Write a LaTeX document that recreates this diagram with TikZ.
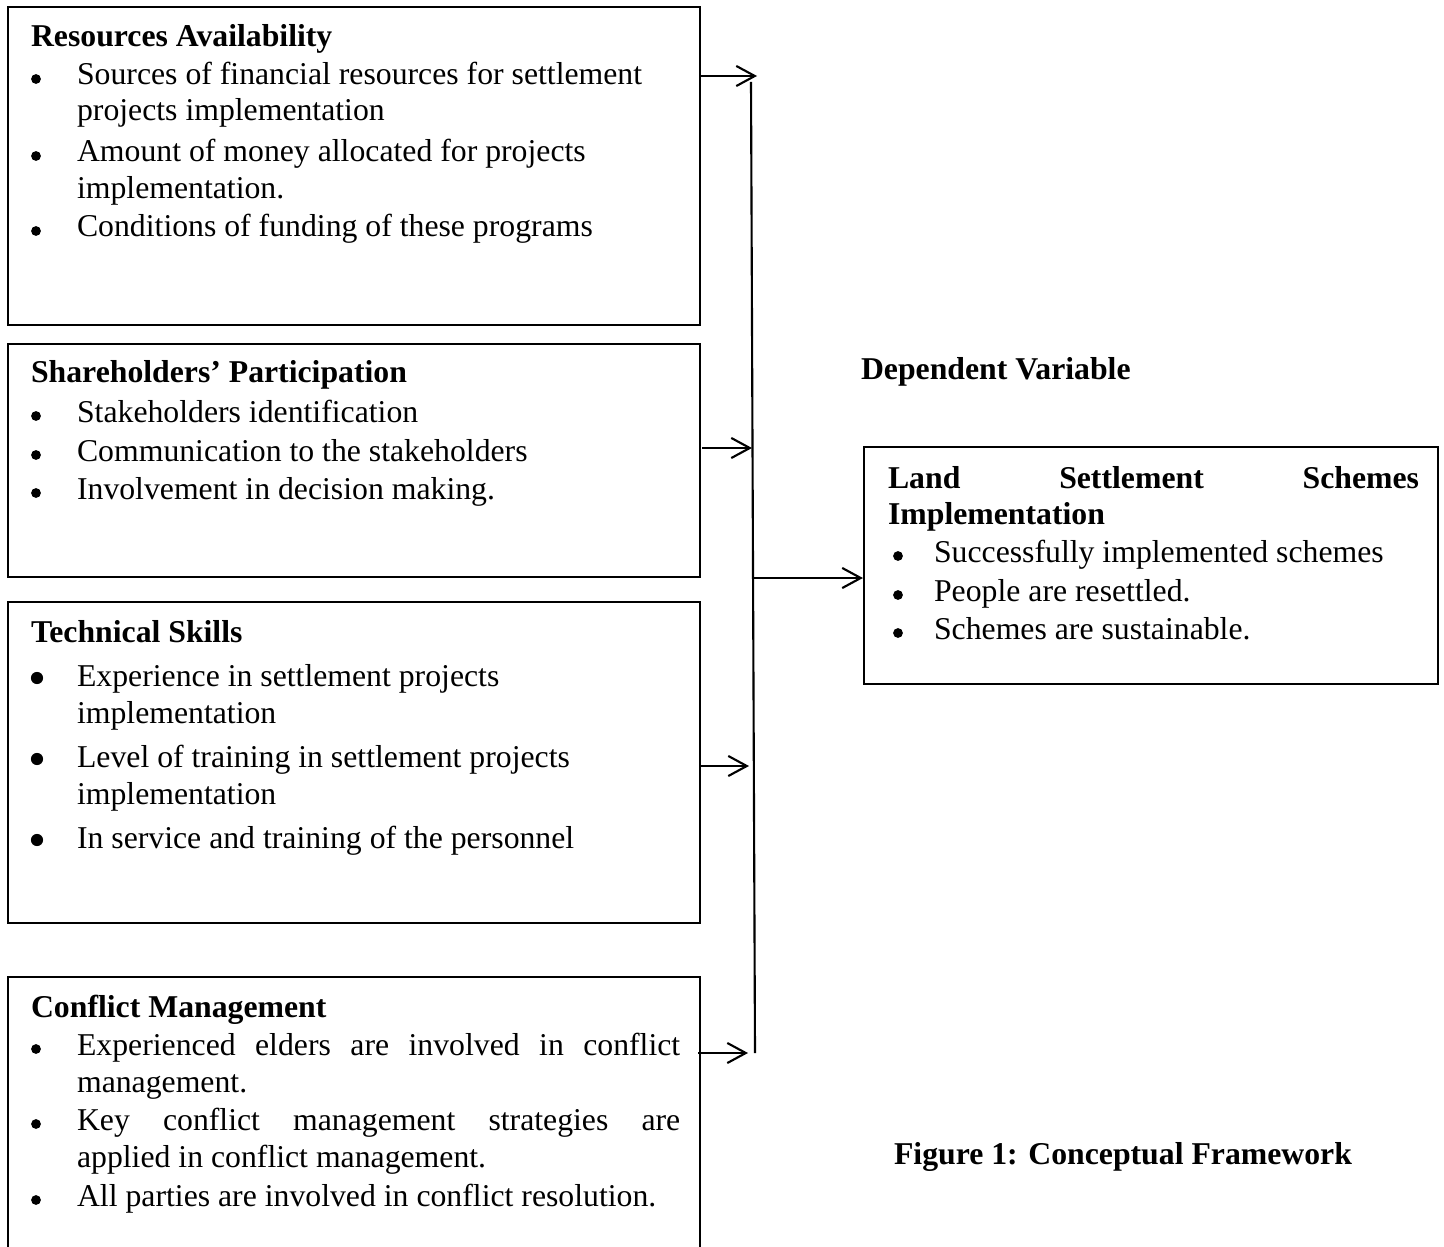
\documentclass[tikz,border=0pt]{standalone}
\usepackage{fontspec}
\setmainfont{Liberation Serif}
\usetikzlibrary{arrows.meta,fit}
\begin{document}
\begin{tikzpicture}[x=0.378pt,y=-0.378pt,line width=0.8pt,
  txt/.style={anchor=base west,inner sep=0pt,font=\fontsize{12}{13.8}\selectfont},
  ttl/.style={anchor=base west,inner sep=0pt,font=\fontsize{12}{13.8}\selectfont\bfseries},
  bulS/.style={circle,fill=black,draw=none,inner sep=0pt,minimum size=3.7pt},
  bulL/.style={circle,fill=black,draw=none,inner sep=0pt,minimum size=4.6pt},
  box/.style={draw=black,line width=0.8pt,inner sep=0pt},
  arr/.style={-{Straight Barb[length=7pt,width=7.6pt,line width=0.8pt]},line width=0.8pt}]
\useasboundingbox (0,0) rectangle (1444,1247);
\clip (0,0) rectangle (1444,1247);
% boxes
\node[box,fit={(8,7) (700,325)}] (B1) {};
\node[box,fit={(8,344) (700,577)}] (B2) {};
\node[box,fit={(8,602) (700,923)}] (B3) {};
\node[box,fit={(8,977) (700,1300)}] (B4) {};
\node[box,fit={(864,447) (1438,684)}] (BR) {};
% box 1
\node[ttl] (t1) at (30,47) {Resources Availability};
\node[bulS] (b11) at (36,79) {};
\node[txt] (l11) at (76,85) {Sources of financial resources for settlement};
\node[txt] (l12) at (76,121) {projects implementation};
\node[bulS] (b12) at (36,156) {};
\node[txt] (l13) at (76,162) {Amount of money allocated for projects};
\node[txt] (l14) at (76,199) {implementation.};
\node[bulS] (b13) at (36,231) {};
\node[txt] (l15) at (76,237) {Conditions of funding of these programs};
% box 2
\node[ttl] (t2) at (30,383) {Shareholders’ Participation};
\node[bulS] (b21) at (36,416) {};
\node[txt] (l21) at (76,422) {Stakeholders identification};
\node[bulS] (b22) at (36,455) {};
\node[txt] (l22) at (76,461) {Communication to the stakeholders};
\node[bulS] (b23) at (36,493) {};
\node[txt] (l23) at (76,499) {Involvement in decision making.};
% box 3
\node[ttl] (t3) at (30,642) {Technical Skills};
\node[bulL] (b31) at (37,678) {};
\node[txt] (l31) at (76,686) {Experience in settlement projects};
\node[txt] (l32) at (76,723) {implementation};
\node[bulL] (b32) at (37,759) {};
\node[txt] (l33) at (76,767) {Level of training in settlement projects};
\node[txt] (l34) at (76,804) {implementation};
\node[bulL] (b33) at (37,840) {};
\node[txt] (l35) at (76,848) {In service and training of the personnel};
% box 4
\node[ttl] (t4) at (30,1017) {Conflict Management};
\node[bulS] (b41) at (36,1049) {};
\node[txt] (l41) at (76,1055) {\makebox[228pt][s]{Experienced elders are involved in conflict}};
\node[txt] (l42) at (76,1092) {management.};
\node[bulS] (b42) at (36,1124) {};
\node[txt] (l43) at (76,1130) {\makebox[228pt][s]{Key conflict management strategies are}};
\node[txt] (l44) at (76,1167) {applied in conflict management.};
\node[bulS] (b43) at (36,1200) {};
\node[txt] (l45) at (76,1206) {All parties are involved in conflict resolution.};
% right side
\node[ttl] (dv) at (860,380) {Dependent Variable};
\node[ttl] (r1) at (887,488) {\makebox[200.7pt][s]{Land Settlement Schemes}};
\node[ttl] (r2) at (887,524) {Implementation};
\node[bulS] (rb1) at (898,556) {};
\node[txt] (r3) at (933,562) {Successfully implemented schemes};
\node[bulS] (rb2) at (898,595) {};
\node[txt] (r4) at (933,601) {People are resettled.};
\node[bulS] (rb3) at (898,633) {};
\node[txt] (r5) at (933,639) {Schemes are sustainable.};
\node[ttl] (fig) at (893,1164) {Figure 1: Conceptual Framework};
% connectors
\coordinate (a1s) at (700,76);
\coordinate (a1e) at (757,76);
\coordinate (a2s) at (702,448);
\coordinate (a2e) at (752,448);
\coordinate (a3s) at (700,766);
\coordinate (a3e) at (749,766);
\coordinate (a4s) at (698,1053);
\coordinate (a4e) at (748,1053);
\coordinate (vt) at (751,82);
\coordinate (vb) at (755,1053);
\coordinate (ms) at (753,578);
\draw[arr] (a1s) -- (a1e);
\draw[arr] (a2s) -- (a2e);
\draw[arr] (a3s) -- (a3e);
\draw[arr] (a4s) -- (a4e);
\draw (vt) -- (vb);
\draw[arr] (ms) -- (BR.west |- ms);
\end{tikzpicture}
\end{document}
